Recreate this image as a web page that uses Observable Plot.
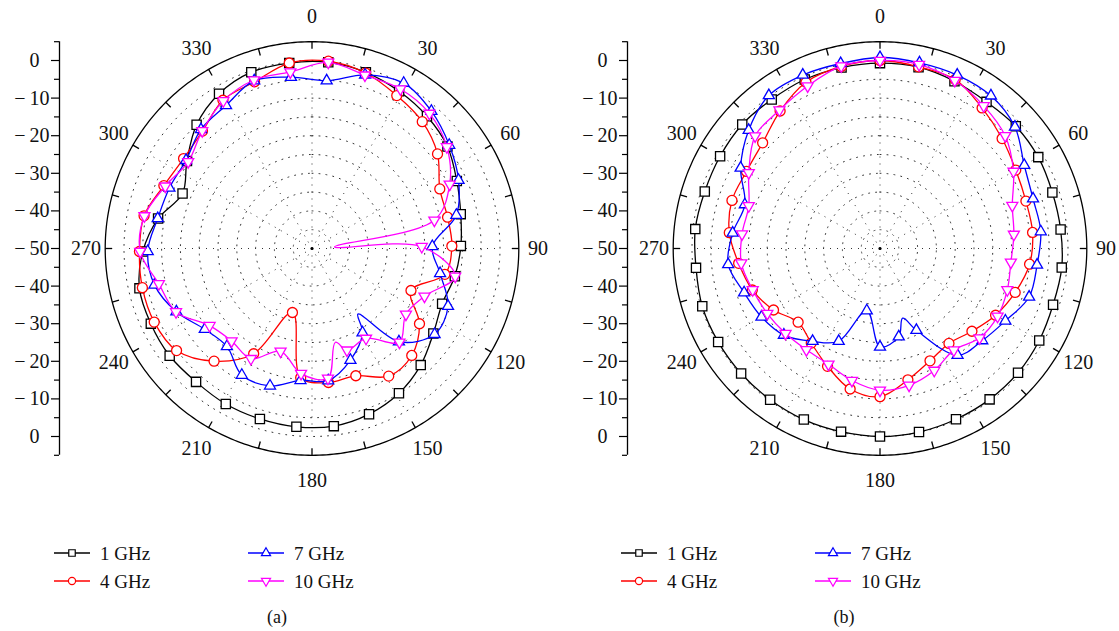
<!DOCTYPE html>
<html><head><meta charset="utf-8">
<script src="https://cdn.jsdelivr.net/npm/d3@7"></script>
<script src="https://cdn.jsdelivr.net/npm/@observablehq/plot@0.6"></script>
<style>
body{margin:0;background:#fff;}
#wrap{position:relative;width:1119px;height:631px;overflow:hidden;font-family:"Liberation Serif","Times New Roman",serif;}
.panel{position:absolute;top:0;}
#legend{position:absolute;left:0;top:0;}
</style></head><body><div id="wrap"></div>
<script>
// ---------- data ----------
const freqLabels = ["1 GHz", "4 GHz", "7 GHz", "10 GHz"];
const angleTickLabels = [0, 30, 60, 90, 120, 150, 180, 210, 240, 270, 300, 330];
const radialTickLabels = [0, -10, -20, -30, -40, -50];

// panel (a): marker angles (degrees) and levels (dB)
const anglesA = [5,17,29,41,53,65,77,89,101,113,125,137,149,161,173,185,197,209,221,233,245,257,269,281,293,305,317,329,341,353];
const a1GHz  = [-0.3,-1.0,-2.2,-3.4,-4.9,-7.5,-9.4,-10.4,-11.3,-12.4,-10.6,-7.6,-5.1,-3.4,-2.4,-2.4,-2.6,-2.7,-3.0,-2.6,-2.7,-2.9,-5.0,-8.3,-12.6,-9.4,-5.0,-2.0,-0.4,-0.3];
const a4GHz  = [0,-1.2,-3.5,-5.3,-8.2,-12.5,-13.0,-12.8,-14.0,-21.4,-15.1,-11.1,-10.4,-14.2,-14.1,-15.5,-32.2,-18.0,-10.3,-4.9,-3.7,-3.7,-4.1,-4.5,-7.2,-8.3,-7.3,-4.0,-3.1,-0.3];
const a7GHz  = [-5.2,-1.7,0.3,-1.6,-4.3,-7.0,-10.6,-18.0,-15.3,-10.7,-10.2,-16.1,-23.9,-18.6,-14.6,-14.8,-11.8,-11.5,-15.5,-14.3,-10.2,-7.0,-6.3,-8.2,-8.8,-9.1,-6.7,-5.6,-2.8,-4.1];
const a10GHz = [-0.3,-1.8,-1.5,-2.4,-5.1,-9.6,-16.6,-20.8,-11.2,-17.5,-19.5,-15.9,-22.1,-21.4,-15.2,-16.6,-21.4,-16.5,-17.4,-15.9,-10.1,-8.2,-4.3,-4.6,-7.6,-9.8,-7.2,-4.2,-2.6,-2.7];
// extra (unmarked) points on the traces of panel (a): [angle, dB]
const a1Extra = [];
const a4Extra = [];
const a7Extra = [[145, -28.7]];
const a10Extra = [[86, -44.0], [166, -24.3]];

// panel (b)
const anglesB = [0,12,24,36,48,60,72,84,96,108,120,132,144,156,168,180,192,204,216,228,240,252,264,276,288,300,312,324,336,348];
const b1GHz  = [-0.7,-0.7,-1.3,-1.8,-1.4,-1.4,-1.8,-1.7,-1.4,-1.6,-1.1,-0.6,-0.4,-0.3,-0.1,0,-0.2,-0.2,-0.3,-0.3,-0.3,-0.3,-0.8,-0.6,-1.0,-0.9,-0.7,-1.0,-0.8,-0.8];
const b4GHz  = [0,-0.6,-0.8,-3.8,-6.3,-8.3,-9.2,-9.2,-10.0,-12.2,-14.5,-17.1,-18.8,-17.3,-14.3,-10.6,-11.8,-15.7,-18.9,-20.7,-17.3,-14.3,-12.2,-9.7,-8.6,-9.0,-8.0,-4.8,-1.6,-0.5];
const b7GHz  = [0.8,0.5,0.5,0.2,-1.7,-5.7,-7.2,-7.0,-8.0,-8.3,-11.5,-13.4,-14.9,-26.2,-26.0,-23.8,-33.1,-23.0,-19.5,-15.6,-13.6,-12.0,-9.4,-10.6,-12.2,-7.2,-3.0,0.3,0.5,0.3];
const b10GHz = [0,0,-1.1,-3.1,-5.2,-9.0,-13.0,-14.2,-15.0,-14.4,-13.9,-14.4,-16.6,-14.5,-12.8,-12.3,-14.1,-16.3,-16.7,-16.2,-15.4,-14.4,-12.9,-13.1,-13.3,-9.7,-5.3,-4.5,-2.7,-0.4];
const b1Extra = [];
const b4Extra = [];
const b7Extra = [[162, -30.5]];
const b10Extra = [];

// ---------- styling ----------
const downTriangle = {
  draw(ctx, size) {
    const y = Math.sqrt(size / (Math.sqrt(3) * 3));
    const x = Math.sqrt(3) * y;
    ctx.moveTo(0, 2 * y);
    ctx.lineTo(-x, -y);
    ctx.lineTo(x, -y);
    ctx.closePath();
  }
};
const styles = [
  {color: "#000000", symbol: "square", r: 5.2},
  {color: "#ff0000", symbol: "circle", r: 5.0},
  {color: "#0000ff", symbol: "triangle", r: 4.1},
  {color: "#ff00ff", symbol: downTriangle, r: 4.1}
];

const FLOOR = -50;          // centre of the polar plot (dB)
const K = 3.76;             // px per dB
const W = 560, H = 480, CX = 311.5, CY = 248, ML = 59;
const OUTER = 55;           // outer ring (dB above floor)
const FONT = "'Liberation Serif', 'Times New Roman', serif";

function P(a, u) {
  const t = a * Math.PI / 180;
  return [u * Math.sin(t), u * Math.cos(t)];
}
const fmt = v => v === 0 ? "0\u2007" : "\u2212\u2009" + Math.abs(v);
const labelR = a => (226 + 6 * Math.abs(Math.cos(a * Math.PI / 180))) / K;

function makePanel(angles, lists, extras) {
  const x0 = (ML - CX) / K, x1 = (W - CX) / K;
  const y0 = (CY - H) / K, y1 = CY / K;
  const marks = [];
  // dotted rings
  const ringData = [];
  for (let u = 5; u <= 50; u += 5) for (let a = 0; a <= 360; a += 1) ringData.push({u, a});
  marks.push(Plot.line(ringData, {x: d => P(d.a, d.u)[0], y: d => P(d.a, d.u)[1], z: "u",
    stroke: "#333", strokeWidth: 1, strokeDasharray: "1 6"}));
  // dotted spokes
  marks.push(Plot.link(angleTickLabels, {x1: () => 0, y1: () => 0,
    x2: a => P(a, 50)[0], y2: a => P(a, 50)[1], stroke: "#333", strokeWidth: 1, strokeDasharray: "1 6"}));
  // outer circle
  marks.push(Plot.line(d3.range(0, 361, 1), {x: a => P(a, OUTER)[0], y: a => P(a, OUTER)[1],
    stroke: "#000", strokeWidth: 1.3}));
  // outer ticks every 15 deg
  marks.push(Plot.link(d3.range(0, 360, 15), {x1: a => P(a, OUTER)[0], y1: a => P(a, OUTER)[1],
    x2: a => P(a, OUTER - 7 / K)[0], y2: a => P(a, OUTER - 7 / K)[1], stroke: "#000", strokeWidth: 1.3}));
  // centre dot
  marks.push(Plot.dot([0], {x: () => 0, y: () => 0, r: 1.6, fill: "#000", stroke: null}));
  // angle labels
  marks.push(Plot.text(angleTickLabels, {x: a => P(a, labelR(a))[0], y: a => P(a, labelR(a))[1], text: a => String(a),
    fontSize: 20, textAnchor: "middle", lineAnchor: "middle", fill: "#111"}));
  // left radial axis (mirrored: top half and bottom half)
  const major = [];
  radialTickLabels.forEach(v => { major.push(v - FLOOR); if (v !== FLOOR) major.push(-(v - FLOOR)); });
  const minor = [];
  for (let u = -55; u <= 55; u += 10) minor.push(u);
  marks.push(Plot.ruleX([x0], {y1: -OUTER, y2: OUTER, stroke: "#000", strokeWidth: 1.3}));
  marks.push(Plot.axisY({ticks: minor, tickSize: 5, tickFormat: () => "", anchor: "left", label: null, strokeWidth: 1.2}));
  marks.push(Plot.axisY({ticks: major, tickSize: 8, tickPadding: 2, anchor: "left", label: null,
    tickFormat: u => fmt(Math.abs(u) + FLOOR), fontSize: 20, strokeWidth: 1.2, fill: "#111"}));
  // series
  lists.forEach((vals, i) => {
    const st = styles[i];
    const pts = angles.map((a, j) => ({a, v: vals[j], m: true}))
      .concat(extras[i].map(([a, v]) => ({a, v, m: false})))
      .sort((p, q) => p.a - q.a);
    marks.push(Plot.line(pts, {x: d => P(d.a, d.v - FLOOR)[0], y: d => P(d.a, d.v - FLOOR)[1],
      curve: "catmull-rom-closed", stroke: st.color, strokeWidth: 1.3}));
    marks.push(Plot.dot(pts.filter(d => d.m), {x: d => P(d.a, d.v - FLOOR)[0], y: d => P(d.a, d.v - FLOOR)[1],
      symbol: st.symbol, r: st.r, stroke: st.color, fill: "#fff", strokeWidth: 1.3}));
  });
  return Plot.plot({
    width: W, height: H, marginLeft: ML, marginRight: 0, marginTop: 0, marginBottom: 0,
    x: {domain: [x0, x1], axis: null},
    y: {domain: [y0, y1]},
    style: {fontFamily: FONT, fontSize: "20px", background: "transparent", overflow: "visible"},
    marks
  });
}

const wrap = document.getElementById("wrap");
const pa = makePanel(anglesA, [a1GHz, a4GHz, a7GHz, a10GHz], [a1Extra, a4Extra, a7Extra, a10Extra]);
pa.classList.add("panel"); pa.style.left = "0px";
wrap.appendChild(pa);
const pb = makePanel(anglesB, [b1GHz, b4GHz, b7GHz, b10GHz], [b1Extra, b4Extra, b7Extra, b10Extra]);
pb.classList.add("panel"); pb.style.left = "567.5px";
wrap.appendChild(pb);

// ---------- legends & captions ----------
const svg = d3.select(wrap).append("svg").attr("id", "legend").attr("width", 1119).attr("height", 631)
  .style("font-family", FONT);
const legendSym = [d3.symbolSquare, d3.symbolCircle, d3.symbolTriangle, downTriangle];
const legendSize = [42, 40, 36, 36];
const captions = ["(a)", "(b)"];
[0, 567].forEach((off, p) => {
  freqLabels.forEach((lab, i) => {
    const col = Math.floor(i / 2), row = i % 2;
    const lx = off + (col === 0 ? 54 : 248), ly = row === 0 ? 553 : 581;
    const g = svg.append("g");
    g.append("line").attr("x1", lx).attr("x2", lx + 36).attr("y1", ly).attr("y2", ly)
      .attr("stroke", styles[i].color).attr("stroke-width", 1.3);
    g.append("path").attr("d", d3.symbol(legendSym[i], legendSize[i])())
      .attr("transform", `translate(${lx + 18},${ly})`)
      .attr("fill", "#fff").attr("stroke", styles[i].color).attr("stroke-width", 1.2);
    g.append("text").attr("x", lx + 46).attr("y", ly).attr("dy", "0.35em")
      .attr("font-size", 19).attr("fill", "#111").text(lab);
  });
  svg.append("text").attr("x", off + 277).attr("y", 617).attr("dy", "0.35em").attr("text-anchor", "middle")
    .attr("font-size", 18).attr("fill", "#111").text(captions[p]);
});
</script>
</body></html>
